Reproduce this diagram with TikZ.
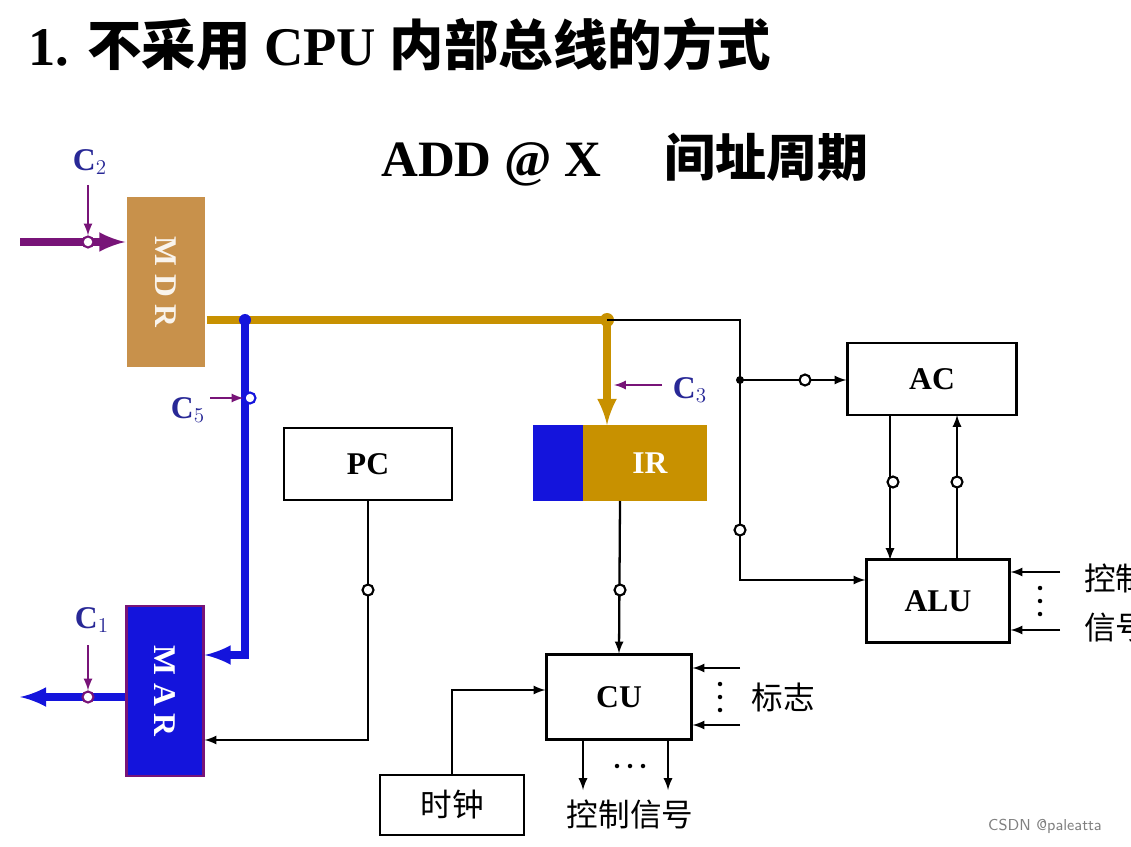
\documentclass[tikz,border=0pt]{standalone}
\usepackage{fontspec}
\setmainfont{Liberation Serif}
\newfontfamily\cjk{Noto Sans CJK SC}
\usetikzlibrary{positioning}
\definecolor{tan}{RGB}{200,145,75}
\definecolor{gold}{RGB}{200,145,0}
\definecolor{busblue}{RGB}{20,20,220}
\definecolor{sigpurple}{RGB}{120,20,120}
\definecolor{labblue}{RGB}{40,40,150}
\tikzstyle{block} = [draw, line width=1.3pt, rectangle, font=\bfseries\fontsize{18}{18}\selectfont, inner sep=0pt]
\tikzstyle{tap} = [draw, line width=1.2pt, circle, fill=white, inner sep=0pt, minimum size=0.22cm]
\tikzstyle{sig} = [font=\bfseries\fontsize{18}{18}\selectfont, text=labblue]
\tikzstyle{wire} = [line width=1.3pt]
\tikzstyle{dot} = [circle, fill, inner sep=0pt, minimum size=0.09cm]
\begin{document}
\begin{tikzpicture}[x=0.02cm, y=-0.02cm, >=latex]
\useasboundingbox (0,0) rectangle (1131,847);
\node[anchor=west, font=\bfseries\fontsize{31}{31}\selectfont] (title) at (22,45) {1. {\cjk 不采用} CPU {\cjk 内部总线的方式}};
\node[font=\bfseries\fontsize{29}{29}\selectfont] (sub) at (625,160) {ADD @ X \quad {\cjk 间址周期}};

% registers
\node [block, draw=none, fill=tan, minimum width=1.58cm, minimum height=3.42cm, text=white!90!tan] (mdr) at (166,282) {\rotatebox{-90}{M D R}};
\node [block, draw=sigpurple, fill=busblue, minimum width=1.54cm, minimum height=3.4cm, text=white] (mar) at (165,691) {\rotatebox{-90}{M A R}};
\node [block, minimum width=3.36cm, minimum height=1.44cm] (pc) at (368,464) {PC};
\node [block, draw=none, fill=gold, minimum width=3.48cm, minimum height=1.52cm, text=white] (ir) at (620,463) {\hspace{1.2cm}IR};
\fill[busblue] (533,425) rectangle (583,501);
\node [block, minimum width=3.38cm, minimum height=1.44cm] (ac) at (932,379) {AC};
\node [block, minimum width=2.86cm, minimum height=1.66cm] (alu) at (938,601) {ALU};
\node [block, minimum width=2.9cm, minimum height=1.7cm] (cu) at (619,697) {CU};
\node [block, minimum width=2.88cm, minimum height=1.2cm, font=\fontsize{18}{18}\selectfont\cjk] (clk) at (452,805) {时钟};

% buses
\coordinate (b1) at (245,320);
\coordinate (b2) at (607,320);
\draw [gold, line width=4pt] (mdr.east |- b1) -- (b2);
\draw [gold, line width=4pt, ->] (b2) -- (607,425);
\fill [busblue] (b1) circle (6);
\fill [gold] (b2) circle (7);
\draw [busblue, line width=4pt, ->] (b1) -- (245,655) -- (mar.east |- 0,655);
\node [tap, draw=busblue] (t5) at (250,398) {};
\draw [sigpurple, wire, ->] (210,398) -- (t5);
\node [sig] (c5) at (188,410) {C$_5$};
\draw [sigpurple, line width=4pt, ->] (20,242) -- (mdr.west |- 0,242);
\node [tap, draw=sigpurple] (t2) at (88,242) {};
\draw [sigpurple, wire, ->] (88,185) -- (t2);
\node [sig] (c2) at (90,162) {C$_2$};
\draw [busblue, line width=4pt, ->] (mar.west |- 0,697) -- (20,697);
\node [tap, draw=sigpurple] (t1) at (88,697) {};
\draw [sigpurple, wire, ->] (88,645) -- (t1);
\node [sig] (c1) at (92,620) {C$_1$};
\draw [sigpurple, wire, ->] (662,385) -- (614,385);
\node [sig] (c3) at (690,390) {C$_3$};

% data paths
\draw [wire, ->] (b2) -- (740,320) -- (740,580) -- (alu.west |- 0,580);
\draw [wire, ->] (740,380) -- (ac.west |- 0,380);
\fill (740,380) circle (4);
\node [tap] at (805,380) {};
\node [tap] at (740,530) {};
\draw [wire, ->] (pc.south) -- (368,740) -- (mar.east |- 0,740);
\node [tap] at (368,590) {};
\draw [wire, ->] (620,501) -- (cu.north);
\node [tap] at (620,590) {};
\draw [wire, ->] (890,415) -- (890,560);
\node [tap] at (893,482) {};
\draw [wire, ->] (957,560) -- (957,415);
\node [tap] at (957,482) {};
\draw [wire, ->] (clk.north) -- (452,690) -- (cu.west |- 0,690);

% side signals
\draw [wire, ->] (1060,572) -- (alu.east |- 0,572);
\draw [wire, ->] (1060,630) -- (alu.east |- 0,630);
\foreach \k in {588,601,614} \node [dot] at (1040,\k) {};
\node [anchor=west, font=\fontsize{18}{18}\selectfont\cjk] at (1078,578) {控制};
\node [anchor=west, font=\fontsize{18}{18}\selectfont\cjk] at (1078,628) {信号};
\draw [wire, ->] (740,668) -- (cu.east |- 0,668);
\draw [wire, ->] (740,725) -- (cu.east |- 0,725);
\foreach \k in {684,697,710} \node [dot] at (720,\k) {};
\node [font=\fontsize{18}{18}\selectfont\cjk] (flag) at (783,697) {标志};
\draw [wire, ->] (583,740) -- (583,790);
\draw [wire, ->] (668,740) -- (668,790);
\foreach \k in {617,630,643} \node [dot] at (\k,766) {};
\node [font=\fontsize{18}{18}\selectfont\cjk] (ctl) at (630,815) {控制信号};
\node [text=gray, font=\sffamily\small] (wm) at (1045,826) {CSDN @paleatta};
\end{tikzpicture}
\end{document}
